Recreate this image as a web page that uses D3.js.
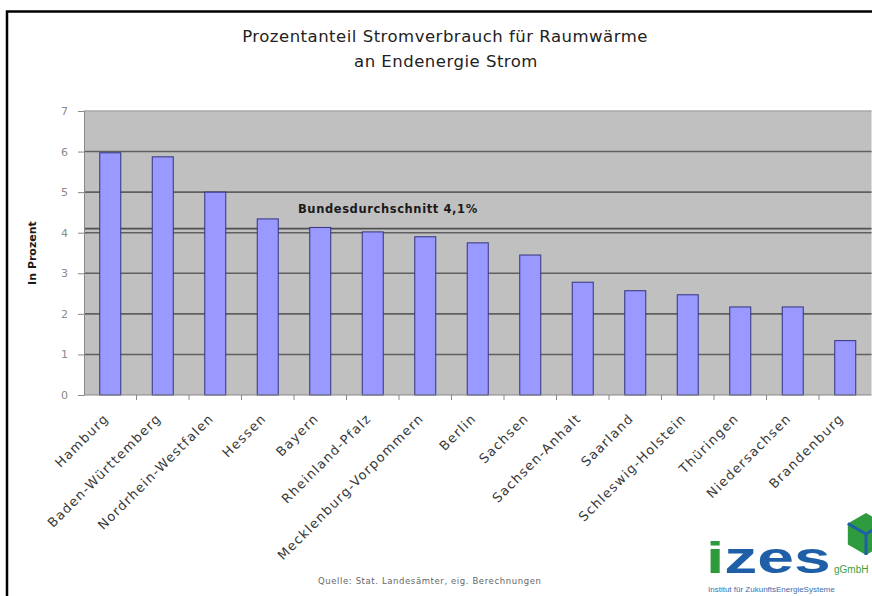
<!DOCTYPE html>
<html lang="de">
<head>
<meta charset="UTF-8">
<title>Prozentanteil Stromverbrauch für Raumwärme</title>
<script src="https://d3js.org/d3.v7.min.js"></script>
<style>
  body { margin: 0; background: #fff; }
  svg { display: block; font-family: "DejaVu Sans", sans-serif; }
</style>
</head>
<body>
<div id="chart"></div>
<script>
const states = ["Hamburg", "Baden-Württemberg", "Nordrhein-Westfalen", "Hessen", "Bayern",
  "Rheinland-Pfalz", "Mecklenburg-Vorpommern", "Berlin", "Sachsen", "Sachsen-Anhalt",
  "Saarland", "Schleswig-Holstein", "Thüringen", "Niedersachsen", "Brandenburg"];
const shares = [5.97, 5.87, 5.0, 4.34, 4.13, 4.02, 3.9, 3.75, 3.45, 2.78, 2.57, 2.47, 2.17, 2.17, 1.34];
const yTicks = [0, 1, 2, 3, 4, 5, 6, 7];
const average = 4.1;
const averageLabel = "Bundesdurchschnitt 4,1%";

const w = 872, h = 596;
const plotLeft = 84, plotRight = 871.5, plotTop = 111, plotBottom = 395;

const svg = d3.select("#chart").append("svg")
  .attr("width", w).attr("height", h);

// frame of the original picture (cut off at right and bottom)
svg.append("path")
  .attr("d", `M7,${h + 2} V11.5 H${w + 2}`)
  .attr("fill", "none").attr("stroke", "#000").attr("stroke-width", 2.5);

const x = d3.scaleBand().domain(states).range([plotLeft, plotRight])
  .paddingInner(0.6).paddingOuter(0.3);
const y = d3.scaleLinear().domain([0, 7]).range([plotBottom, plotTop]);
const step = x.step();

// title
const title = svg.append("text").attr("text-anchor", "middle")
  .attr("font-size", 16.5).attr("letter-spacing", 0.5).attr("fill", "#222");
title.append("tspan").attr("x", 445).attr("y", 42).text("Prozentanteil Stromverbrauch für Raumwärme");
title.append("tspan").attr("x", 446).attr("y", 67).text("an Endenergie Strom");

// plot background
svg.append("rect")
  .attr("x", plotLeft).attr("y", plotTop)
  .attr("width", plotRight - plotLeft).attr("height", plotBottom - plotTop)
  .attr("fill", "#c0c0c0");

// gridlines
svg.append("g").selectAll("line").data(yTicks.filter(d => d > 0)).join("line")
  .attr("x1", plotLeft).attr("x2", plotRight)
  .attr("y1", d => y(d)).attr("y2", d => y(d))
  .attr("stroke", d => d === 7 ? "#a8a8a8" : "#5f5f5f").attr("stroke-width", 1.6);

// national average line
svg.append("line")
  .attr("x1", plotLeft).attr("x2", plotRight)
  .attr("y1", y(average)).attr("y2", y(average))
  .attr("stroke", "#505050").attr("stroke-width", 1.6);

svg.append("text")
  .attr("x", 298).attr("y", y(average) - 16)
  .attr("font-size", 11.5).attr("letter-spacing", 0.6)
  .attr("font-weight", "bold").attr("fill", "#1a1a1a")
  .text(averageLabel);

// bars
svg.append("g").selectAll("rect").data(states).join("rect")
  .attr("x", d => x(d))
  .attr("y", (d, i) => y(shares[i]))
  .attr("width", x.bandwidth())
  .attr("height", (d, i) => y(0) - y(shares[i]))
  .attr("fill", "#9999ff")
  .attr("stroke", "#333380").attr("stroke-width", 1);

// y axis
const yAxis = svg.append("g")
  .attr("transform", `translate(${plotLeft},0)`)
  .call(d3.axisLeft(y).tickValues(yTicks).tickFormat(d3.format("d")).tickSize(6).tickPadding(10));
yAxis.select(".domain").attr("stroke", "#888");
yAxis.selectAll(".tick line").attr("stroke", "#888");
yAxis.selectAll(".tick text")
  .attr("fill", "#8a8a8a").attr("font-size", 11).attr("font-family", "DejaVu Sans, sans-serif");

// x axis line and category ticks between bars
svg.append("line")
  .attr("x1", plotLeft).attr("x2", plotRight)
  .attr("y1", plotBottom).attr("y2", plotBottom)
  .attr("stroke", "#888").attr("stroke-width", 1);
svg.append("g").selectAll("line").data(states.slice(1)).join("line")
  .attr("x1", d => x(d) - step * 0.3).attr("x2", d => x(d) - step * 0.3)
  .attr("y1", plotBottom).attr("y2", plotBottom + 5)
  .attr("stroke", "#888");

// category labels
svg.append("g").selectAll("text").data(states).join("text")
  .attr("transform", d => `translate(${x(d) + x.bandwidth() / 2 - 4},${plotBottom + 21}) rotate(-45)`)
  .attr("text-anchor", "end").attr("dy", "0.35em")
  .attr("font-size", 13).attr("letter-spacing", 1.3).attr("fill", "#3a3a3a")
  .text(d => d);

// y axis title
svg.append("text")
  .attr("transform", `translate(36,${(plotTop + plotBottom) / 2}) rotate(-90)`)
  .attr("text-anchor", "middle")
  .attr("font-size", 11).attr("font-weight", "bold").attr("fill", "#1a1a1a")
  .text("In Prozent");

// source note
svg.append("text")
  .attr("x", 318).attr("y", 584)
  .attr("font-size", 8.5).attr("letter-spacing", 0.6).attr("fill", "#666")
  .text("Quelle: Stat. Landesämter, eig. Berechnungen");

// izes logo
const logo = svg.append("g").attr("font-family", "Liberation Sans, sans-serif");
logo.append("text")
  .attr("transform", "translate(706,573) scale(1.5,1)")
  .attr("font-size", 44).attr("font-weight", "bold")
  .call(t => {
    t.append("tspan").attr("fill", "#2f9a3c").text("i");
    t.append("tspan").attr("fill", "#1f5fa8").text("zes");
  });
logo.append("text").attr("x", 834).attr("y", 573)
  .attr("font-size", 10).attr("fill", "#3aa042")
  .text("gGmbH");
logo.append("text").attr("x", 708).attr("y", 592)
  .attr("font-size", 8).attr("fill", "#3a6fb0")
  .text("Institut für ZukunftsEnergieSysteme");
const hex = d3.range(6).map(k => {
  const a = Math.PI / 3 * k + Math.PI / 6;
  return [866 + 21 * Math.cos(a), 534 + 21 * Math.sin(a)];
});
logo.append("path").attr("d", "M" + hex.join("L") + "Z").attr("fill", "#2e9b3e");
logo.append("path")
  .attr("d", `M866,534 L${hex[1]} M866,534 L${hex[5]} M866,534 L${hex[3]}`)
  .attr("stroke", "#1f5fa8").attr("stroke-width", 3).attr("fill", "none");
</script>
</body>
</html>
